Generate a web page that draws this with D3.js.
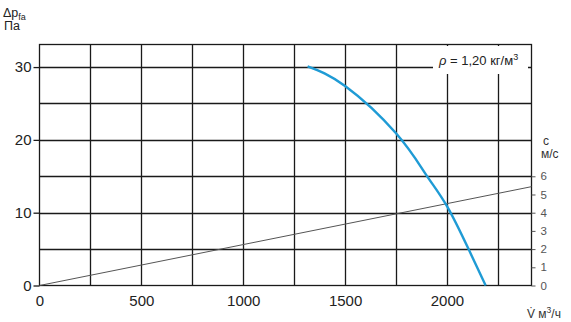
<!DOCTYPE html>
<html><head><meta charset="utf-8">
<script src="https://cdn.jsdelivr.net/npm/d3@7"></script>
<style>body{margin:0;background:#fff}svg{display:block}text{font-family:"Liberation Sans",Arial,sans-serif}</style>
</head><body><svg id="c" width="571" height="322"></svg>
<script>
// data
const curveV = [1316, 1500, 1750, 1898, 2000, 2106, 2190];
const curvePa = [30.1, 27.4, 20.9, 15.2, 10.9, 5.0, 0];
const velLineV = [0, 2415];
const velLineC = [0, 5.43];
const xTicks = [0, 500, 1000, 1500, 2000];
const xGrid = [250, 500, 750, 1000, 1250, 1500, 1750, 2000, 2250];
const yTicks = [0, 10, 20, 30];
const yGrid = [5, 10, 15, 20, 25, 30];
const cTicks = [0, 1, 2, 3, 4, 5, 6];

const svg = d3.select("#c");
const x = d3.scaleLinear([0, 2415], [39.5, 531.5]);
const y = d3.scaleLinear([0, 33.1], [285.5, 44.5]);
const yc = d3.scaleLinear([0, 33.1 * 0.4], [285.5, 44.5]);

const g = svg.append("g");
// grid
g.selectAll(".vg").data(xGrid).join("line")
  .attr("x1", d => Math.round(x(d)) + 0.5).attr("x2", d => Math.round(x(d)) + 0.5)
  .attr("y1", y.range()[1]).attr("y2", y.range()[0])
  .attr("stroke", "#1a1a1a").attr("stroke-width", 1.3);
g.selectAll(".hg").data(yGrid).join("line")
  .attr("y1", d => Math.round(y(d)) + 0.5).attr("y2", d => Math.round(y(d)) + 0.5)
  .attr("x1", x.range()[0]).attr("x2", x.range()[1])
  .attr("stroke", "#1a1a1a").attr("stroke-width", 1.3);
// frame
g.append("rect").attr("x", x.range()[0]).attr("y", y.range()[1])
  .attr("width", x.range()[1] - x.range()[0]).attr("height", y.range()[0] - y.range()[1])
  .attr("fill", "none").attr("stroke", "#1a1a1a").attr("stroke-width", 1.3);

// legend box
svg.append("rect").attr("x", 433).attr("y", 46).attr("width", 95).attr("height", 28).attr("fill", "#fff");
const lt = svg.append("text").attr("x", 439).attr("y", 65).attr("font-size", 13).attr("fill", "#222");
lt.append("tspan").attr("font-style", "italic").text("ρ");
lt.append("tspan").text(" = 1,20 кг/м");
lt.append("tspan").attr("font-size", 9).attr("dy", -5).text("3");

// left axis
const ax = svg.append("g").attr("transform", `translate(${x.range()[0]},0)`)
  .call(d3.axisLeft(y).tickValues(yTicks).tickSize(6).tickPadding(2).tickFormat(d3.format("d")));
ax.select(".domain").remove();
ax.selectAll("line").attr("stroke", "#1a1a1a").attr("stroke-width", 1.3);
ax.selectAll("text").attr("font-size", 15).attr("fill", "#222").attr("font-family", "Liberation Sans, Arial");

// bottom labels
const bx = svg.append("g").attr("transform", `translate(0,${y.range()[0]})`)
  .call(d3.axisBottom(x).tickValues(xTicks).tickSize(0).tickPadding(10).tickFormat(d3.format("d")));
bx.select(".domain").remove();
bx.selectAll("text").attr("font-size", 15).attr("fill", "#222").attr("font-family", "Liberation Sans, Arial");

// right axis
const rx = svg.append("g").attr("transform", `translate(${x.range()[1]},0)`)
  .call(d3.axisRight(yc).tickValues(cTicks).tickSize(4).tickPadding(5).tickFormat(d3.format("d")));
rx.select(".domain").remove();
rx.selectAll("line").attr("stroke", "#555");
rx.selectAll("text").attr("font-size", 11.5).attr("fill", "#555").attr("font-family", "Liberation Sans, Arial");

// velocity line
svg.append("path").datum(velLineV.map((v, i) => [v, velLineC[i]]))
  .attr("d", d3.line().x(d => x(d[0])).y(d => yc(d[1])))
  .attr("fill", "none").attr("stroke", "#555").attr("stroke-width", 1);

// fan curve
svg.append("path").datum(curveV.map((v, i) => [v, curvePa[i]]))
  .attr("d", d3.line().x(d => x(d[0])).y(d => y(d[1])).curve(d3.curveNatural))
  .attr("fill", "none").attr("stroke", "#1f9bd5").attr("stroke-width", 2.4).attr("stroke-linecap", "butt");

// axis titles
const t1 = svg.append("text").attr("x", 3).attr("y", 17).attr("font-size", 12.5).attr("fill", "#222");
t1.append("tspan").text("Δp");
t1.append("tspan").attr("font-size", 9).attr("dy", 3).text("fa");
svg.append("text").attr("x", 4).attr("y", 30).attr("font-size", 12.5).attr("fill", "#222").text("Па");
svg.append("text").attr("x", 543).attr("y", 145).attr("font-size", 12).attr("fill", "#333").text("c");
svg.append("text").attr("x", 541).attr("y", 158).attr("font-size", 12).attr("fill", "#333").text("м/с");
const t3 = svg.append("text").attr("x", 527).attr("y", 318).attr("font-size", 12).attr("fill", "#333");
t3.append("tspan").text("V\u0307 м");
t3.append("tspan").attr("font-size", 8.5).attr("dy", -5).text("3");
t3.append("tspan").attr("dy", 5).text("/ч");
</script></body></html>
